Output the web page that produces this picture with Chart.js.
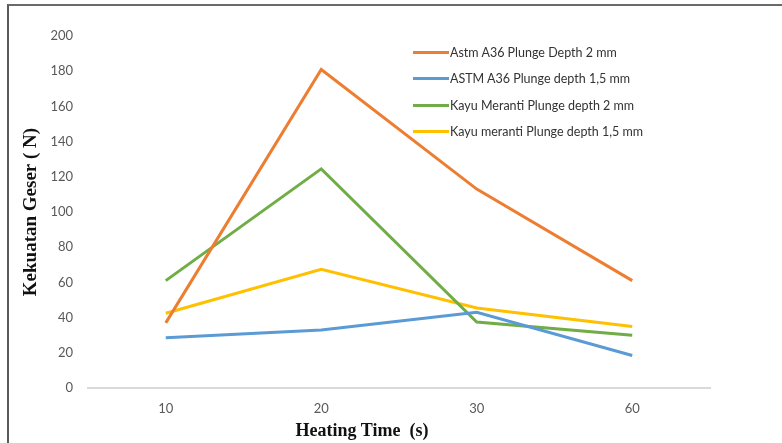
<!DOCTYPE html>
<html>
	<head>
		<style>
			body {
				margin: 0;
				background: #fff;
			}
			#wrap {
				position: relative;
				width: 782px;
				height: 443px;
				overflow: hidden;
			}
			#frame {
				position: absolute;
				left: 7px;
				top: 4px;
				width: 800px;
				height: 500px;
				border-left: 2px solid #5a5a5a;
				border-top: 2px solid #6a6a6a;
				pointer-events: none;
			}
			#legend {
				position: absolute;
				left: 413px;
				top: 39px;
				font-family: Lato, sans-serif;
				font-size: 12.5px;
				color: #333;
			}
			#legend .row {
				height: 26.5px;
				display: flex;
				align-items: center;
			}
			#legend .swatch {
				width: 36px;
				height: 3px;
				margin-right: 1px;
			}
			#xtitle {
				position: absolute;
				left: 262px;
				width: 200px;
				top: 420px;
				text-align: center;
				font-family: "Liberation Serif", serif;
				font-weight: bold;
				font-size: 18px;
				white-space: pre;
				color: #111;
			}
		</style>
		<title>Kekuatan Geser</title>
	</head>
	<body>
		<div id="wrap">
			<canvas id="canvas1" width="782" height="443"></canvas>
			<div id="legend"></div>
			<div id="xtitle">Heating Time  (s)</div>
			<div id="frame"></div>
		</div>
		<script src="https://cdn.jsdelivr.net/npm/chart.js@4/dist/chart.umd.min.js"></script>
		<script>
			var labels = ['10', '20', '30', '60'];
			var astm2 = [37, 181, 113, 61];
			var astm15 = [28.5, 33, 43, 18.5];
			var meranti2 = [61, 124.5, 37.5, 30];
			var meranti15 = [42.5, 67.5, 45.5, 35];

			function line(label, data, color) {
				return {
					label: label,
					data: data,
					borderColor: color,
					backgroundColor: color,
					borderWidth: 3,
					pointRadius: 0,
					tension: 0,
					fill: false
				};
			}

			var ctx1 = document.getElementById("canvas1").getContext("2d");
			var chart1 = new Chart(ctx1, {
				type: "line",
				data: {
					labels: labels,
					datasets: [
						line("Astm A36 Plunge Depth 2 mm", astm2, "#ED7D31"),
						line("ASTM A36 Plunge depth 1,5 mm", astm15, "#5B9BD5"),
						line("Kayu Meranti Plunge depth 2 mm", meranti2, "#70AD47"),
						line("Kayu meranti Plunge depth 1,5 mm", meranti15, "#FFC000")
					]
				},
				options: {
					responsive: false,
					animation: false,
					layout: {
						padding: { left: 20, top: 36, right: 72, bottom: 0 }
					},
					plugins: {
						legend: { display: false },
						tooltip: { enabled: false }
					},
					scales: {
						x: {
							offset: true,
							grid: { display: false, drawTicks: false },
							border: { color: "#d9d9d9", width: 2 },
							ticks: {
								padding: 13,
								color: "#595959",
								font: { family: "Lato", size: 13 }
							},
							afterFit: function (scale) { scale.height = 55; }
						},
						y: {
							min: 0,
							max: 200,
							grid: { display: false, drawTicks: false },
							border: { display: false },
							ticks: {
								stepSize: 20,
								padding: 15,
								color: "#595959",
								font: { family: "Lato", size: 13 }
							},
							title: {
								display: true,
								text: "Kekuatan Geser ( N)",
								color: "#111",
								padding: 0,
								font: { family: "Liberation Serif", size: 19, weight: "bold" }
							},
							afterFit: function (scale) { scale.width = 68; }
						}
					}
				}
			});

			// legend drawn as html, inside the plot area
			var legend = document.getElementById("legend");
			chart1.data.datasets.forEach(function (ds) {
				var row = document.createElement("div");
				row.className = "row";
				var sw = document.createElement("span");
				sw.className = "swatch";
				sw.style.background = ds.borderColor;
				var txt = document.createElement("span");
				txt.textContent = ds.label;
				row.appendChild(sw);
				row.appendChild(txt);
				legend.appendChild(row);
			});
		</script>
	</body>
</html>
